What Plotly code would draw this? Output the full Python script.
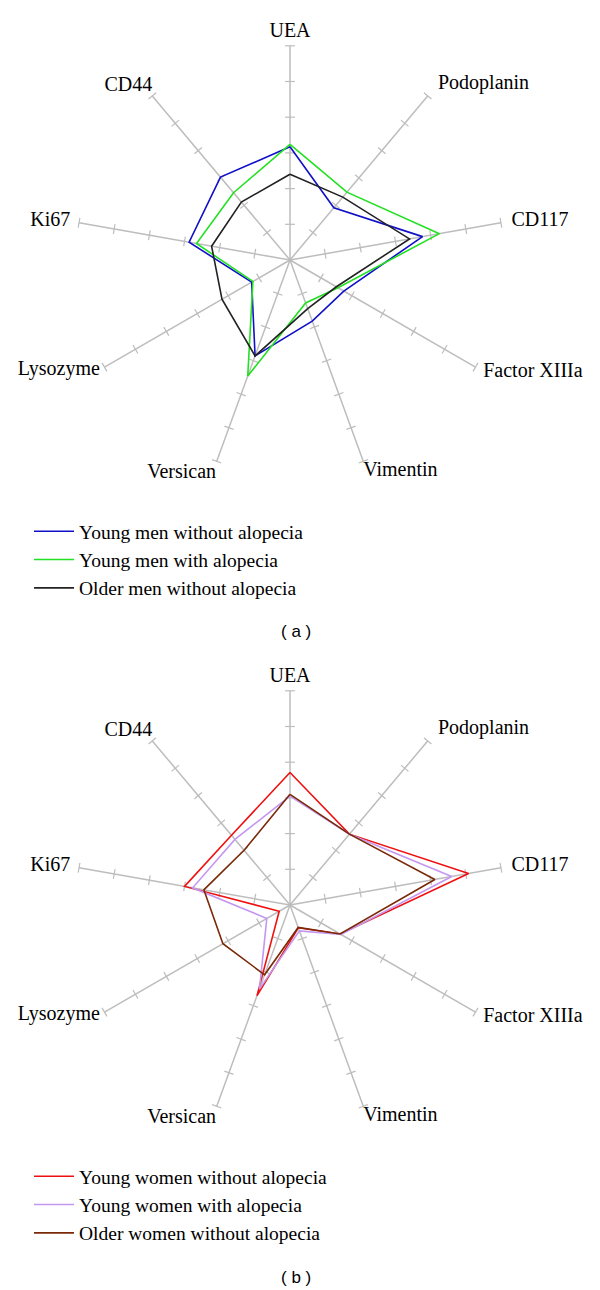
import plotly.graph_objects as go

# radar axes, clockwise from the top
markers = ["UEA", "Podoplanin", "CD117", "Factor XIIIa", "Vimentin",
           "Versican", "Lysozyme", "Ki67", "CD44"]
tick_steps = [1, 2, 3, 4, 5, 6]

# (a) men
young_men_no_alopecia = [3.17, 1.91, 3.77, 1.74, 1.82, 2.86, 1.24, 2.87, 3.03]
young_men_alopecia = [3.24, 2.48, 4.25, 1.55, 1.28, 3.46, 1.20, 2.66, 2.46]
older_men_no_alopecia = [2.40, 2.30, 3.40, 1.50, 1.45, 2.86, 2.20, 2.23, 2.12]

# (b) women
young_women_no_alopecia = [3.71, 2.59, 5.08, 1.62, 0.68, 2.70, 0.35, 3.00, 2.55]
young_women_alopecia = [3.05, 2.59, 4.60, 1.65, 0.77, 2.50, 0.75, 2.77, 2.40]
older_women_no_alopecia = [3.10, 2.59, 4.12, 1.62, 0.67, 2.08, 2.17, 2.45, 2.00]

panels = [
    ("polar", "legend", [
        ("Young men without alopecia", young_men_no_alopecia, "#1010c8"),
        ("Young men with alopecia", young_men_alopecia, "#22e022"),
        ("Older men without alopecia", older_men_no_alopecia, "#222222"),
    ]),
    ("polar2", "legend2", [
        ("Young women without alopecia", young_women_no_alopecia, "#ee1111"),
        ("Young women with alopecia", young_women_alopecia, "#c497f0"),
        ("Older women without alopecia", older_women_no_alopecia, "#7a2a08"),
    ]),
]

# where each axis name sits relative to the end of its spoke
label_r = [6.1, 6.45, 6.3, 6.25, 6.0, 6.05, 6.15, 6.25, 6.0]
label_pos = ["top center", "middle right", "middle right", "middle right", "bottom right",
             "bottom left", "middle left", "middle left", "top left"]

GRID = "#bdbdbd"
SERIF = "Liberation Serif, Times New Roman, serif"
R_MAX = 6.5  # a bit of room past the spokes for the names

fig = go.Figure()

for subplot, leg, series in panels:
    for i, m in enumerate(markers):
        # spoke
        fig.add_trace(go.Scatterpolar(
            r=[0, tick_steps[-1]], theta=[m, m], mode="lines", subplot=subplot,
            showlegend=False, hoverinfo="skip", line=dict(color=GRID, width=1.5)))
        # little cross ticks on the spoke
        fig.add_trace(go.Scatterpolar(
            r=tick_steps, theta=[m] * len(tick_steps),
            mode="markers", subplot=subplot, showlegend=False, hoverinfo="skip",
            marker=dict(symbol="line-ew", size=7, angle=40 * i - 180,
                        line=dict(color=GRID, width=1.2))))
    # axis names
    fig.add_trace(go.Scatterpolar(
        r=label_r, theta=markers, text=markers,
        mode="text", textposition=label_pos, cliponaxis=False,
        textfont=dict(family=SERIF, size=20, color="black"),
        subplot=subplot, showlegend=False, hoverinfo="skip"))
    for name, vals, col in series:
        fig.add_trace(go.Scatterpolar(
            r=vals + vals[:1], theta=markers + markers[:1],
            mode="lines", name=name, subplot=subplot, legend=leg,
            line=dict(color=col, width=1.6)))

polar_style = dict(
    bgcolor="rgba(0,0,0,0)",
    radialaxis=dict(range=[0, R_MAX], showgrid=False, showline=False,
                    showticklabels=False, ticks=""),
    angularaxis=dict(type="category", categoryarray=markers, direction="clockwise",
                     rotation=90, showline=False, showgrid=False, ticks="",
                     showticklabels=False),
)

# 35.7 px per step, centres at (290, 260) and (290, 905)
half = R_MAX * 35.7
def dom(cx, cy):
    return dict(x=[(cx - half) / 600, (cx + half) / 600],
                y=[1 - (cy + half) / 1290, 1 - (cy - half) / 1290])

leg_style = dict(font=dict(family=SERIF, size=19.5, color="black"), itemwidth=40,
                 xanchor="left", yanchor="top", bgcolor="rgba(0,0,0,0)",
                 tracegroupgap=0, itemclick=False)

cap_font = dict(family="Liberation Sans, Arial", size=17, color="black")

fig.update_layout(
    width=600, height=1290, autosize=False,
    margin=dict(l=0, r=0, t=0, b=0),
    paper_bgcolor="white", plot_bgcolor="white",
    polar=dict(domain=dom(290, 260), **polar_style),
    polar2=dict(domain=dom(290, 905), **polar_style),
    legend=dict(x=29 / 600, y=1 - 512 / 1290, **leg_style),
    legend2=dict(x=29 / 600, y=1 - 1157 / 1290, **leg_style),
    annotations=[
        dict(text="( a )", x=296 / 600, y=1 - 632 / 1290, xref="paper", yref="paper",
             xanchor="center", yanchor="middle", showarrow=False, font=cap_font),
        dict(text="( b )", x=296 / 600, y=1 - 1277 / 1290, xref="paper", yref="paper",
             xanchor="center", yanchor="middle", showarrow=False, font=cap_font),
    ],
)

# page body has a default 8px margin; drop it so the figure sits at 0,0
fig.write_html("out.html", config={"displayModeBar": False},
               post_script="document.body.style.margin='0';")
